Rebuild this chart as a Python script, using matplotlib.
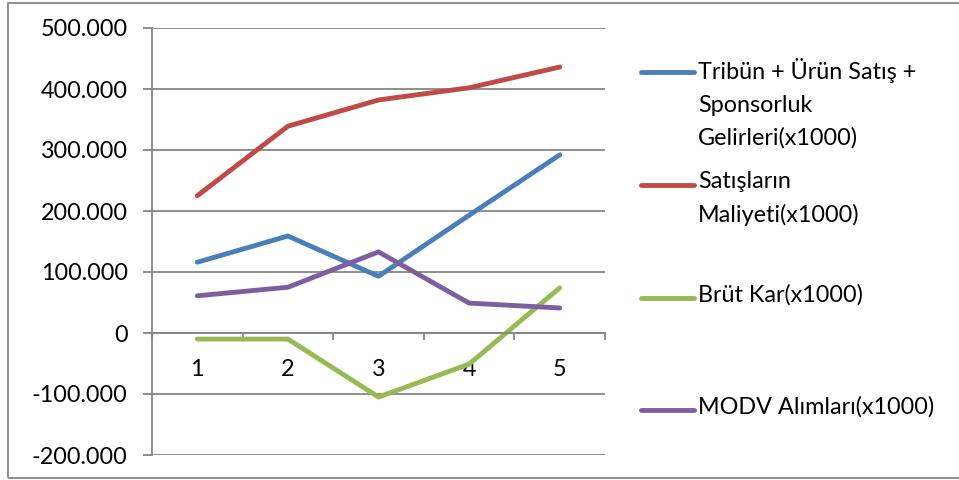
import matplotlib.pyplot as plt
from matplotlib.lines import Line2D
from matplotlib.patches import Rectangle
from matplotlib.ticker import FuncFormatter, FixedLocator

plt.rcParams['font.family'] = ['Lato', 'DejaVu Sans']

yillar = [1, 2, 3, 4, 5]
gelirler = [116000, 159000, 93000, 193000, 292000]
maliyet = [225000, 339000, 382000, 402000, 436000]
brut_kar = [-10000, -10000, -105000, -51000, 74000]
modv = [61000, 75000, 133000, 49000, 41000]

etiketler = ["Tribün + Ürün Satış +\nSponsorluk\nGelirleri(x1000)",
             "Satışların\nMaliyeti(x1000)",
             "Brüt Kar(x1000)",
             "MODV Alımları(x1000)"]
renkler = ["#4A7EBB", "#BE4B48", "#98B954", "#7D5FA0"]
seriler = [gelirler, maliyet, brut_kar, modv]

gri = "#868686"
yazi = 16.8

fig = plt.figure(figsize=(9.59, 4.80), dpi=100)
ax = fig.add_axes([152 / 959, 1 - 455 / 480, 453 / 959, 427 / 480])

for veri, renk in zip(seriler, renkler):
    ax.plot(yillar, veri, color=renk, lw=3.5, solid_capstyle="round",
            solid_joinstyle="round")

ax.set_xlim(0.5, 5.5)
ax.set_ylim(-200000, 500000)
ax.set_yticks(range(-200000, 500001, 100000))
ax.yaxis.set_major_formatter(FuncFormatter(lambda v, p: f"{v:,.0f}".replace(",", ".")))
ax.grid(axis="y", color=gri, lw=1.3)
ax.set_axisbelow(True)

for s in ["top", "right"]:
    ax.spines[s].set_visible(False)
ax.spines["left"].set_color(gri)
ax.spines["left"].set_linewidth(1.3)
ax.spines["bottom"].set_position(("data", 0))
ax.spines["bottom"].set_color(gri)
ax.spines["bottom"].set_linewidth(1.3)

ax.set_xticks(yillar)
ax.xaxis.set_minor_locator(FixedLocator([0.5, 1.5, 2.5, 3.5, 4.5, 5.5]))
ax.tick_params(axis="x", which="major", length=0, pad=19, labelsize=yazi)
ax.tick_params(axis="x", which="minor", length=5, color=gri, width=1.3)
ax.tick_params(axis="y", length=6.5, color=gri, width=1.3, pad=11, labelsize=yazi)

# legend drawn by hand, Excel style
leg_y = [72, 185, 298, 410]
for etiket, renk, y in zip(etiketler, renkler, leg_y):
    yf = 1 - y / 480
    fig.add_artist(Line2D([641 / 959, 694 / 959], [yf, yf], color=renk, lw=3.5,
                          solid_capstyle="round"))
    fig.text(698 / 959, 1 - (y - 14) / 480, etiket, fontsize=yazi, va="top",
             ha="left", linespacing=1.68)

fig.add_artist(Rectangle((8 / 959, 2 / 480), 955 / 959, 475 / 480, fill=False,
                         edgecolor=gri, lw=1.3, transform=fig.transFigure))

fig.savefig("out.png", dpi=100)
